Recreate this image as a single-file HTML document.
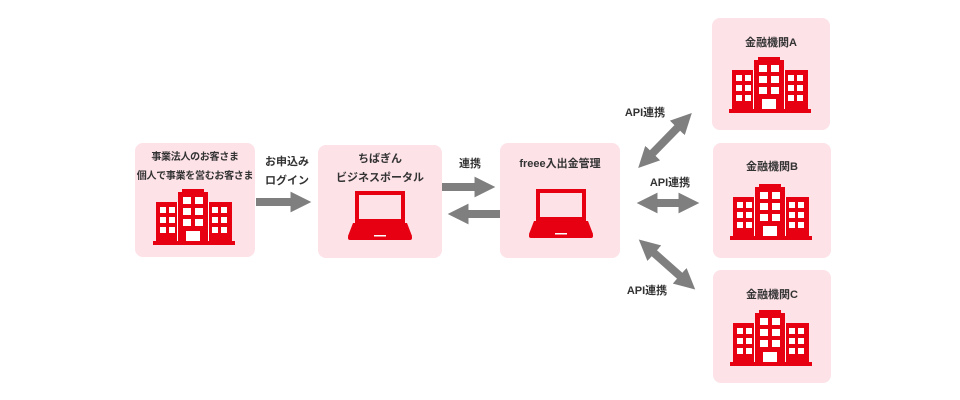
<!DOCTYPE html>
<html><head><meta charset="utf-8"><style>
html,body{margin:0;padding:0;background:#fff;}
body{width:960px;height:400px;position:relative;overflow:hidden;font-family:"Liberation Sans","Noto Sans CJK JP",sans-serif;}
.box{position:absolute;background:#fde2e8;border-radius:8px;}
.t{position:absolute;font-size:11px;font-weight:bold;color:#333;text-align:center;white-space:nowrap;line-height:19px;}
svg{position:absolute;left:0;top:0;}
</style></head><body>
<div class="box" style="left:135px;top:143px;width:120px;height:114px"></div>
<div class="box" style="left:318px;top:145px;width:124px;height:113px"></div>
<div class="box" style="left:500px;top:143px;width:120px;height:115px"></div>
<div class="box" style="left:712px;top:18px;width:118px;height:112px"></div>
<div class="box" style="left:713px;top:143px;width:118px;height:115px"></div>
<div class="box" style="left:713px;top:270px;width:118px;height:113px"></div>

<div class="t" style="left:135px;top:148px;width:120px;font-size:10px;letter-spacing:-0.3px">事業法人のお客さま<br>個人で事業を営むお客さま</div>
<div class="t" style="left:318px;top:150px;width:124px">ちばぎん<br>ビジネスポータル</div>
<div class="t" style="left:500px;top:155px;width:120px">freee入出金管理</div>
<div class="t" style="left:712px;top:34px;width:118px">金融機関A</div>
<div class="t" style="left:713px;top:158px;width:118px">金融機関B</div>
<div class="t" style="left:713px;top:286px;width:118px">金融機関C</div>
<div class="t" style="left:257px;top:153px;width:60px">お申込み<br>ログイン</div>
<div class="t" style="left:450px;top:155px;width:40px">連携</div>
<div class="t" style="left:620px;top:104px;width:50px">API連携</div>
<div class="t" style="left:645px;top:174px;width:50px">API連携</div>
<div class="t" style="left:622px;top:282px;width:50px">API連携</div>

<svg width="960" height="400" viewBox="0 0 960 400">
<defs>
<g id="bld">
<rect x="29" y="0" width="22" height="4" fill="#e60012"/>
<rect x="25" y="3" width="30" height="51" fill="#e60012"/>
<rect x="3" y="13" width="21" height="41" fill="#e60012"/>
<rect x="56" y="13" width="23" height="41" fill="#e60012"/>
<rect x="0" y="52" width="82" height="4" fill="#e60012"/>
<g fill="#fff">
<rect x="7" y="18" width="6" height="6"/><rect x="16" y="18" width="6" height="6"/>
<rect x="7" y="28" width="6" height="6"/><rect x="16" y="28" width="6" height="6"/>
<rect x="7" y="38" width="6" height="6"/><rect x="16" y="38" width="6" height="6"/>
<rect x="59" y="18" width="6" height="6"/><rect x="68" y="18" width="6" height="6"/>
<rect x="59" y="28" width="6" height="6"/><rect x="68" y="28" width="6" height="6"/>
<rect x="59" y="38" width="6" height="6"/><rect x="68" y="38" width="6" height="6"/>
<rect x="30" y="8" width="8" height="7"/><rect x="42" y="8" width="8" height="7"/>
<rect x="30" y="19" width="8" height="7"/><rect x="42" y="19" width="8" height="7"/>
<rect x="30" y="30" width="8" height="7"/><rect x="42" y="30" width="8" height="7"/>
<rect x="33" y="42" width="14" height="10"/>
<rect x="24" y="13" width="1" height="39"/><rect x="55" y="13" width="1" height="39"/>
</g>
</g>
<g id="lap">
<rect x="9" y="2" width="46" height="28" fill="none" stroke="#e60012" stroke-width="4"/>
<polygon points="5,32 59,32 64,45 0,45" fill="#e60012"/>
<rect x="0" y="44" width="64" height="5" rx="2" fill="#e60012"/>
<rect x="26" y="44" width="12" height="1.5" fill="#fff"/>
</g>
<marker id="ah" viewBox="0 0 10 10" refX="6" refY="5" markerWidth="2.6" markerHeight="2.6" orient="auto-start-reverse" markerUnits="strokeWidth">
<polygon points="0,0 10,5 0,10" fill="#7f7f7f"/>
</marker>
</defs>
<use href="#bld" x="153" y="189"/>
<use href="#bld" x="729" y="57"/>
<use href="#bld" x="730" y="184"/>
<use href="#bld" x="730" y="310"/>
<use href="#lap" x="348" y="191"/>
<use href="#lap" x="529" y="189"/>
<g stroke="#7f7f7f" stroke-width="8" fill="none">
<line x1="256" y1="202" x2="303" y2="202" marker-end="url(#ah)"/>
<line x1="442" y1="187" x2="487" y2="187" marker-end="url(#ah)"/>
<line x1="500" y1="214" x2="456" y2="214" marker-end="url(#ah)"/>
<line x1="644" y1="162" x2="686" y2="119" marker-start="url(#ah)" marker-end="url(#ah)"/>
<line x1="645" y1="203" x2="691" y2="203" marker-start="url(#ah)" marker-end="url(#ah)"/>
<line x1="645" y1="245" x2="689" y2="284" marker-start="url(#ah)" marker-end="url(#ah)"/>
</g>
</svg>
</body></html>
